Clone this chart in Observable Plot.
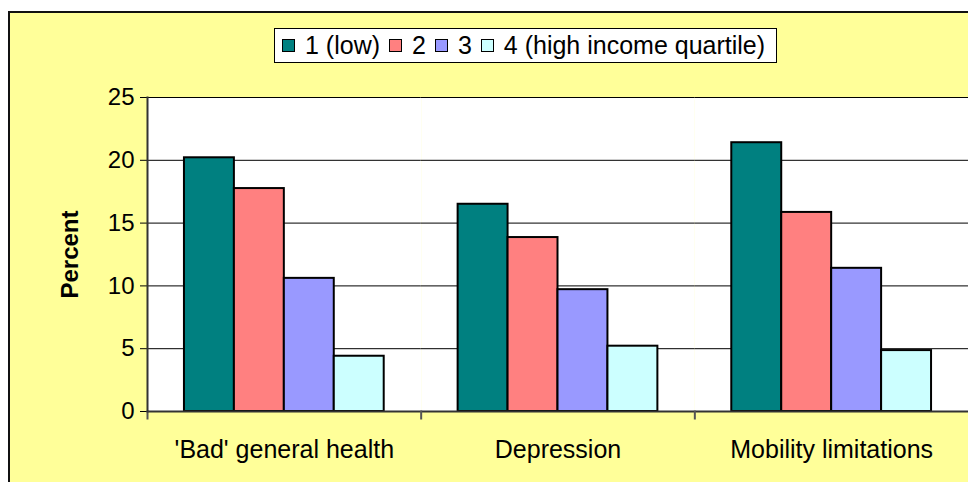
<!DOCTYPE html>
<html>
<head>
<meta charset="utf-8">
<script src="https://cdn.jsdelivr.net/npm/d3@7"></script>
<script src="https://cdn.jsdelivr.net/npm/@observablehq/plot@0.6"></script>
<style>
  html, body { margin: 0; padding: 0; background: white; }
  #wrap { position: relative; width: 968px; height: 482px; overflow: hidden; font-family: Arial, "Liberation Sans", sans-serif; }
  #panel { position: absolute; left: 8px; top: 11px; right: 0; bottom: 0; background: #FFFF99; border-left: 2px solid #111; border-top: 2px solid #111; }
  #chart { position: absolute; left: 0; top: 0; }
  #legend { position: absolute; left: 274px; top: 28px; width: 503px; height: 35px; box-sizing: border-box; border: 1px solid #000; background: white; display: flex; align-items: center; padding-left: 7px; font-size: 25px; color: #000; white-space: nowrap; }
  .sw { display: inline-block; width: 11px; height: 11px; border: 1px solid #000; margin-right: 10px; }
  .item { display: flex; align-items: center; margin-right: 9px; }
  g[aria-label="y-axis label"] text { font-weight: bold; }
  g[aria-label="fx-axis tick label"] text { font-size: 25px; }
</style>
</head>
<body>
<div id="wrap">
  <div id="panel"></div>
  <div id="legend"></div>
  <div id="chart"></div>
</div>
<script>
const categories = ["'Bad' general health", "Depression", "Mobility limitations"];
const series = ["1 (low)", "2", "3", "4 (high income quartile)"];
const badHealth = [20.2, 17.75, 10.6, 4.4];
const depression = [16.5, 13.85, 9.7, 5.2];
const mobility = [21.4, 15.85, 11.4, 4.85];
const colors = ["#008080", "#FF8080", "#9999FF", "#CCFFFF"];
const yTicks = [0, 5, 10, 15, 20, 25];

const valuesByCategory = [badHealth, depression, mobility];
const data = [];
categories.forEach((c, i) => series.forEach((s, j) => data.push({category: c, series: s, value: valuesByCategory[i][j]})));

const legend = document.getElementById("legend");
series.forEach((s, j) => {
  const item = document.createElement("span");
  item.className = "item";
  const sw = document.createElement("span");
  sw.className = "sw";
  sw.style.background = colors[j];
  item.appendChild(sw);
  item.appendChild(document.createTextNode(s));
  legend.appendChild(item);
});

const chart = Plot.plot({
  width: 968,
  height: 482,
  marginLeft: 147,
  marginRight: 0,
  marginTop: 97,
  marginBottom: 71,
  style: {background: "transparent", fontFamily: "Arial, 'Liberation Sans', sans-serif", fontSize: "24px", color: "black", overflow: "visible"},
  fx: {domain: categories, padding: 0, round: false, label: null, axis: "bottom", tickSize: 0, tickPadding: 29},
  x: {domain: series, paddingInner: 0, paddingOuter: 0.74, round: false, axis: null},
  y: {domain: [0, 25], ticks: yTicks, tickSize: 7, tickPadding: 6, label: "Percent", labelAnchor: "center", labelArrow: "none", labelOffset: 87},
  color: {domain: series, range: colors},
  marks: [
    Plot.frame({fill: "white", stroke: null}),
    Plot.ruleY(yTicks.slice(1), {stroke: "#000", strokeWidth: 1}),
    Plot.barY(data, {fx: "category", x: "series", y: "value", fill: "series", stroke: "#000", strokeWidth: 2}),
    Plot.ruleY([0], {stroke: "#333", strokeWidth: 2}),
    Plot.frame({anchor: "left", insetTop: 314, insetBottom: -7, stroke: "#555", strokeWidth: 2}),
    Plot.frame({anchor: "left", facetAnchor: "left", stroke: "#333", strokeWidth: 2})
  ]
});
document.getElementById("chart").appendChild(chart);
</script>
</body>
</html>
